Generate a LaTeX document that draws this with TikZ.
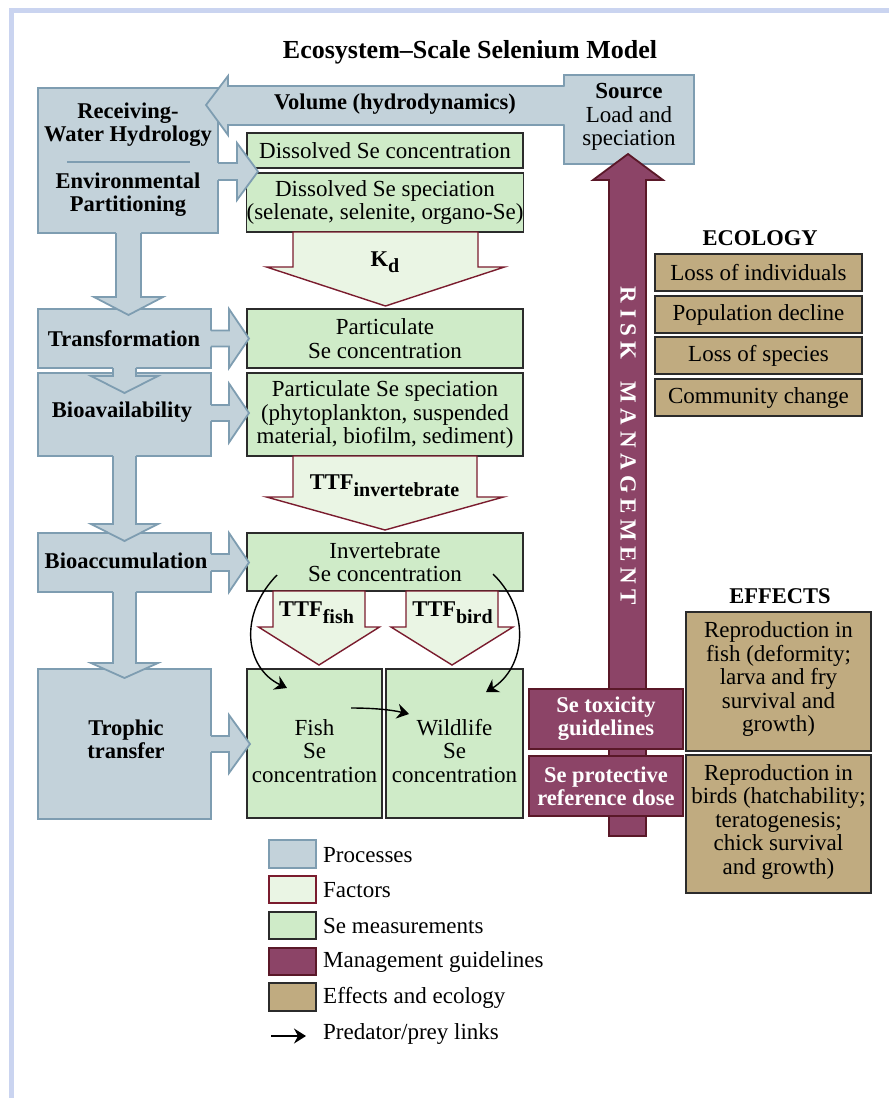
\documentclass[tikz,border=0pt]{standalone}
\usepackage{fontspec}
\setmainfont{Liberation Serif}
\usetikzlibrary{arrows.meta,calc}
\definecolor{procfill}{HTML}{C3D2DA}
\definecolor{procline}{HTML}{7E9DB1}
\definecolor{factfill}{HTML}{EAF5E4}
\definecolor{factline}{HTML}{7A1C2E}
\definecolor{measfill}{HTML}{CFEBC8}
\definecolor{measline}{HTML}{2B2B2B}
\definecolor{mgmtfill}{HTML}{8C4467}
\definecolor{mgmtline}{HTML}{5A1828}
\definecolor{efffill}{HTML}{C0AB80}
\definecolor{effline}{HTML}{2B2B2B}
\definecolor{framecol}{HTML}{CAD4F0}
\newcommand{\rmtext}{\fontsize{23}{23.5}\selectfont}
\newcommand{\bftext}{\fontsize{22.5}{23}\selectfont\bfseries}
\newcommand{\subtext}{\fontsize{20}{20}\selectfont\bfseries}
\newcommand{\lsp}{\kern5.5pt}
% right block arrow from a process box: xbox, yc, bodyhalf, xbase, headhalf, xtip
\newcommand{\procR}[6]{%
  \fill[procfill] ({#1-3},{#2-#3}) -- (#4,{#2-#3}) -- (#4,{#2-#5}) -- (#6,#2) -- (#4,{#2+#5}) -- (#4,{#2+#3}) -- ({#1-3},{#2+#3}) -- cycle;
  \draw[procline, line width=1.8pt, line join=miter] (#1,{#2-#3}) -- (#4,{#2-#3}) -- (#4,{#2-#5}) -- (#6,#2) -- (#4,{#2+#5}) -- (#4,{#2+#3}) -- (#1,{#2+#3});}
% down block arrow: xc, ytop, shafthalf, ybase, headhalf, ytip
\newcommand{\procD}[6]{%
  \fill[procfill] ({#1-#3},{#2-3}) -- ({#1-#3},#4) -- ({#1-#5},#4) -- (#1,#6) -- ({#1+#5},#4) -- ({#1+#3},#4) -- ({#1+#3},{#2-3}) -- cycle;
  \draw[procline, line width=1.8pt, line join=miter] ({#1-#3},#2) -- ({#1-#3},#4) -- ({#1-#5},#4) -- (#1,#6) -- ({#1+#5},#4) -- ({#1+#3},#4) -- ({#1+#3},#2);}
% factor arrow (closed)
\newcommand{\factD}[6]{%
  \draw[fill=factfill, draw=factline, line width=1.4pt, line join=miter] ({#1-#3},#2) -- ({#1-#3},#4) -- ({#1-#5},#4) -- (#1,#6) -- ({#1+#5},#4) -- ({#1+#3},#4) -- ({#1+#3},#2) -- cycle;}
\begin{document}
\begin{tikzpicture}[x=1pt,y=-1pt,
  proc/.style={draw=procline, fill=procfill, line width=1.8pt, inner sep=0pt},
  meas/.style={draw=measline, fill=measfill, line width=1.3pt, inner sep=0pt, align=center, font=\rmtext},
  eff/.style={draw=effline, fill=efffill, line width=1.6pt, inner sep=0pt, align=center, font=\rmtext},
  mgmt/.style={draw=mgmtline, fill=mgmtfill, line width=1.6pt, inner sep=0pt, align=center, font=\bftext, text=white},
  ptxt/.style={font=\bftext, align=center, inner sep=0pt},
  rtxt/.style={font=\rmtext, align=center, inner sep=0pt},
  head/.style={font=\bftext, inner sep=0pt},
  pred/.style={line width=1.4pt, -{Stealth[length=12pt,width=15pt,inset=4pt]}},
  legtxt/.style={font=\rmtext, anchor=west, inner sep=0pt}]
\useasboundingbox (0,0) rectangle (889,1098);
\fill[white] (0,0) rectangle (889,1098);
\fill[framecol] (9,8) rectangle (889,13);
\fill[framecol] (9,8) rectangle (14,1098);

\node[font=\fontsize{26}{26}\selectfont\bfseries, inner sep=0pt] (title) at (470,52) {Ecosystem–Scale Selenium Model};

% ---------- process boxes ----------
\node[proc, minimum width=180, minimum height=145] (rwh) at (128,160.5) {};
\node[proc, minimum width=130, minimum height=89] (src) at (629,119.5) {};
\node[proc, minimum width=173, minimum height=59] (trans) at (124.5,338.5) {};
\node[proc, minimum width=173, minimum height=83] (bioav) at (124.5,414.5) {};
\node[proc, minimum width=173, minimum height=59] (bioacc) at (124.5,562.5) {};
\node[proc, minimum width=173, minimum height=150] (troph) at (124.5,744) {};

% volume arrow
\fill[procfill] (566,86) -- (228,86) -- (228,76) -- (206,105) -- (228,135) -- (228,125) -- (566,125) -- cycle;
\draw[procline, line width=1.8pt, line join=miter] (564.5,86) -- (228,86) -- (228,76) -- (206,105) -- (228,135) -- (228,125) -- (564.5,125);
\node[ptxt] (vol) at (395,104) {Volume (hydrodynamics)};

\draw[procline, line width=1.5pt] (67,162) -- (190,162);
\node[ptxt] (rwhtxt) at (128,125) {Receiving-\\Water Hydrology};
\node[ptxt] (envtxt) at (128,195) {Environmental\\Partitioning};
\node[rtxt] (srctxt) at (629,117) {\textbf{Source}\\Load and\\speciation};
\node[ptxt] (transtxt) at (124,339) {Transformation};
\node[ptxt] (bioavtxt) at (122,412) {Bioavailability};
\node[ptxt] (bioacctxt) at (126,561) {Bioaccumulation};
\node[ptxt] (trophtxt) at (126,739) {Trophic\\transfer};

% down arrows
\procD{128.5}{233}{12.5}{297}{34.5}{315}
\procD{124.5}{368}{11.5}{376}{33.5}{393}
\procD{124.5}{456}{11.5}{524}{33.5}{541}
\procD{124.5}{592}{11.5}{663}{33.5}{678}

% ---------- measurement boxes ----------
\node[meas, minimum width=276, minimum height=35] (dconc) at (385,150.5) {Dissolved Se concentration};
\node[meas, minimum width=276, minimum height=59] (dspec) at (385,202.5) {Dissolved Se speciation\\(selenate, selenite, organo-Se)};
\node[meas, minimum width=276, minimum height=59] (pconc) at (385,338.5) {Particulate\\Se concentration};
\node[meas, minimum width=276, minimum height=83] (pspec) at (385,414.5) {Particulate Se speciation\\(phytoplankton, suspended\\material, biofilm, sediment)};
\node[meas, minimum width=276, minimum height=58] (inv) at (385,562) {Invertebrate\\Se concentration};
\node[meas, minimum width=135, minimum height=149] (fish) at (314.5,743.5) {};
\node[meas, minimum width=137, minimum height=149] (wild) at (454.5,743.5) {};
\node[rtxt] (fishtxt) at (314.5,751) {Fish\\Se\\concentration};
\node[rtxt] (wildtxt) at (454.5,751) {Wildlife\\Se\\concentration};

% right arrows from processes
\procR{218}{171.5}{8.5}{237}{28.5}{258}
\procR{211}{338.5}{8}{229}{29.5}{249}
\procR{211}{413}{8}{229}{29.5}{249}
\procR{211}{562.5}{8.5}{229}{29.5}{249}
\procR{211}{744}{8}{229}{29}{250}

% ---------- factor arrows ----------
\factD{385.5}{232}{92.5}{267}{119}{306}
\node[head] (kd) at (385,262) {K\raisebox{-6pt}{\subtext d}};
\factD{385}{456}{92}{497}{118.5}{530}
\node[head] (ttfi) at (384.5,486) {TTF\raisebox{-7pt}{\subtext invertebrate}};
\factD{319}{591}{46}{627}{60.5}{665}
\node[head] (ttff) at (316.5,613) {TTF\raisebox{-7pt}{\subtext fish}};
\factD{452}{591}{46}{627}{61}{665}
\node[head] (ttfb) at (452.5,613) {TTF\raisebox{-7pt}{\subtext bird}};

% ---------- risk management ----------
\draw[fill=mgmtfill, draw=mgmtline, line width=1.8pt, line join=miter] (609,836) -- (609,180) -- (593,180) -- (628,154) -- (663,180) -- (646,180) -- (646,836) -- cycle;
\node[font=\fontsize{23}{23}\selectfont\bfseries, text=white, rotate=-90, inner sep=0pt] (risk) at (628,446) {R\lsp I\lsp S\lsp K\kern22pt M\lsp A\lsp N\lsp A\lsp G\lsp E\lsp M\lsp E\lsp N\lsp T};
\node[mgmt, minimum width=154, minimum height=60] (tox) at (606,719) {Se toxicity\\guidelines};
\node[mgmt, minimum width=154, minimum height=60] (prot) at (606,786) {Se protective\\reference dose};

% ---------- ecology ----------
\node[head] (ecoh) at (760,238) {ECOLOGY};
\node[eff, minimum width=207, minimum height=37] (e1) at (758.5,272.5) {Loss of individuals};
\node[eff, minimum width=207, minimum height=37] (e2) at (758.5,314.5) {Population decline};
\node[eff, minimum width=207, minimum height=37] (e3) at (758.5,355.5) {Loss of species};
\node[eff, minimum width=207, minimum height=37] (e4) at (758.5,397.5) {Community change};

% ---------- effects ----------
\node[head] (effh) at (780,596) {EFFECTS};
\node[eff, minimum width=185, minimum height=139] (f1) at (778.5,681.5) {};
\node[rtxt] (f1t) at (778.5,679) {Reproduction in\\fish (deformity;\\larva and fry\\survival and\\growth)};
\node[eff, minimum width=185, minimum height=138] (f2) at (778.5,824) {};
\node[rtxt] (f2t) at (778.5,821.5) {Reproduction in\\birds (hatchability;\\teratogenesis;\\chick survival\\and growth)};

% ---------- predator/prey links ----------
\coordinate (p1s) at (277,575);
\coordinate (p1e) at (287,688);
\coordinate (p2s) at (493,574);
\coordinate (p2e) at (486,692);
\coordinate (p3s) at (351,708);
\coordinate (p3e) at (409,714);
\draw[pred] (p1s) .. controls (238,615) and (245,668) .. (p1e);
\draw[pred] (p2s) .. controls (532,612) and (525,668) .. (p2e);
\draw[pred] (p3s) .. controls (375,708) and (392,710) .. (p3e);

% ---------- legend ----------
\node[proc, minimum width=47, minimum height=28] (l1) at (292.5,854) {};
\node[draw=factline, fill=factfill, line width=1.6pt, minimum width=47, minimum height=27, inner sep=0pt] (l2) at (292.5,889.5) {};
\node[meas, minimum width=47, minimum height=27] (l3) at (292.5,925.5) {};
\node[mgmt, minimum width=47, minimum height=27] (l4) at (292.5,961.5) {};
\node[eff, minimum width=47, minimum height=28] (l5) at (292.5,997) {};
\coordinate (l6s) at (271,1036);
\coordinate (l6e) at (306,1036);
\draw[pred] (l6s) -- (l6e);
\node[legtxt] (t1) at (323,855) {Processes};
\node[legtxt] (t2) at (323,890) {Factors};
\node[legtxt] (t3) at (323,926) {Se measurements};
\node[legtxt] (t4) at (323,962) {Management guidelines};
\node[legtxt] (t5) at (323,998) {Effects and ecology};
\node[legtxt] (t6) at (323,1034) {Predator/prey links};
\end{tikzpicture}
\end{document}
